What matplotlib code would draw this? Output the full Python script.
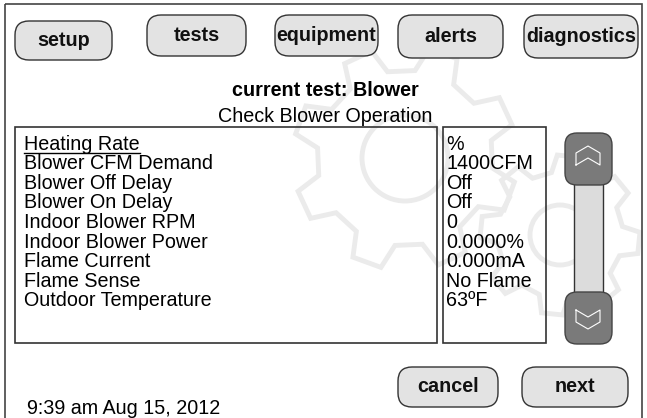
import numpy as np
import matplotlib.pyplot as plt
from matplotlib.patches import FancyBboxPatch, Rectangle, Circle, Polygon

plt.rcParams['font.family'] = ['Liberation Sans', 'DejaVu Sans']

# Screen content
tab_labels = ['setup', 'tests', 'equipment', 'alerts', 'diagnostics']
title_text = 'current test: Blower'
subtitle_text = 'Check Blower Operation'
row_labels = ['Heating Rate', 'Blower CFM Demand', 'Blower Off Delay', 'Blower On Delay',
              'Indoor Blower RPM', 'Indoor Blower Power', 'Flame Current', 'Flame Sense',
              'Outdoor Temperature']
row_values = ['%', '1400CFM', 'Off', 'Off', '0', '0.0000%', '0.000mA', 'No Flame', '63ºF']
bottom_buttons = ['cancel', 'next']
timestamp = '9:39 am Aug 15, 2012'

W, H = 647, 418
FS = 14.2
fig = plt.figure(figsize=(W / 100, H / 100), dpi=100)
ax = fig.add_axes([0, 0, 1, 1])
ax.set_xlim(0, W)
ax.set_ylim(H, 0)
ax.axis('off')

gear_col = '#ebebeb'


def gear(cx, cy, r_out, r_in, n_teeth, rot=0.0):
    pts = []
    step = 2 * np.pi / n_teeth
    for k in range(n_teeth):
        a = rot + k * step
        pts.append((cx + r_in * np.cos(a - 0.30 * step), cy + r_in * np.sin(a - 0.30 * step)))
        pts.append((cx + r_out * np.cos(a - 0.17 * step), cy + r_out * np.sin(a - 0.17 * step)))
        pts.append((cx + r_out * np.cos(a + 0.17 * step), cy + r_out * np.sin(a + 0.17 * step)))
        pts.append((cx + r_in * np.cos(a + 0.30 * step), cy + r_in * np.sin(a + 0.30 * step)))
    return pts


# watermark gears
ax.add_patch(Polygon(gear(405, 158, 112, 88, 8, 0.35), closed=True, fill=False,
                     ec=gear_col, lw=3.5, zorder=0))
ax.add_patch(Circle((405, 158), 43, fill=False, ec=gear_col, lw=3.5, zorder=0))
ax.add_patch(Polygon(gear(560, 235, 80, 63, 8, 0.1), closed=True, fill=False,
                     ec=gear_col, lw=3.5, zorder=0))
ax.add_patch(Circle((560, 235), 30, fill=False, ec=gear_col, lw=3.5, zorder=0))

# outer frame
ax.add_patch(Rectangle((5, 4), 637, 430, fill=False, ec='#444444', lw=1.2))


def button(x0, x1, y0, y1, label, fs=FS):
    ax.add_patch(FancyBboxPatch((x0, y0), x1 - x0, y1 - y0,
                                boxstyle='round,pad=0,rounding_size=14',
                                fc='#e3e3e3', ec='#333333', lw=1.0, zorder=2))
    ax.text((x0 + x1) / 2, (y0 + y1) / 2, label, ha='center', va='center',
            fontsize=fs, fontweight='bold', color='#111111', zorder=3)


tab_x = [(15, 112), (147, 246), (275, 378), (398, 503), (524, 638)]
tab_y = [(21, 60), (15, 56), (15, 56), (15, 58), (15, 58)]
for (x0, x1), (y0, y1), lab in zip(tab_x, tab_y, tab_labels):
    button(x0, x1, y0, y1, lab)

ax.text(325, 91, title_text, ha='center', va='center', fontsize=FS, fontweight='bold')
ax.text(325, 116, subtitle_text, ha='center', va='center', fontsize=FS)

# tables
ax.add_patch(Rectangle((15, 127), 422, 216, fill=False, ec='#333333', lw=1.2, zorder=2))
ax.add_patch(Rectangle((443, 127), 103, 216, fill=False, ec='#333333', lw=1.2, zorder=2))
row_y = 144 + 19.6 * np.arange(len(row_labels))
for y, lab, val in zip(row_y, row_labels, row_values):
    ax.text(24, y, lab, ha='left', va='center', fontsize=FS, zorder=3)
    ax.text(446, y, val, ha='left', va='center', fontsize=FS, zorder=3)
ax.plot([24, 140], [row_y[0] + 9, row_y[0] + 9], color='black', lw=1.0, zorder=3)

# scroll bar
ax.add_patch(Rectangle((574, 180), 29, 118, fc='#dcdcdc', ec='#333333', lw=1.0, zorder=1))
for y0 in (133, 292):
    ax.add_patch(FancyBboxPatch((565, y0), 47, 52, boxstyle='round,pad=0,rounding_size=12',
                                fc='#7a7a7a', ec='#444444', lw=1.0, zorder=2))
ax.plot([576, 576, 588, 600, 600, 588, 576], [165, 153, 146, 153, 165, 158, 165],
        color='white', lw=0.8, zorder=3)
ax.plot([576, 576, 588, 600, 600, 588, 576], [310, 322, 329, 322, 310, 317, 310],
        color='white', lw=0.8, zorder=3)

# bottom
button(398, 498, 367, 407, bottom_buttons[0])
button(522, 628, 367, 407, bottom_buttons[1])
ax.text(27, 408, timestamp, ha='left', va='center', fontsize=FS)

fig.savefig('out.png', dpi=100)
